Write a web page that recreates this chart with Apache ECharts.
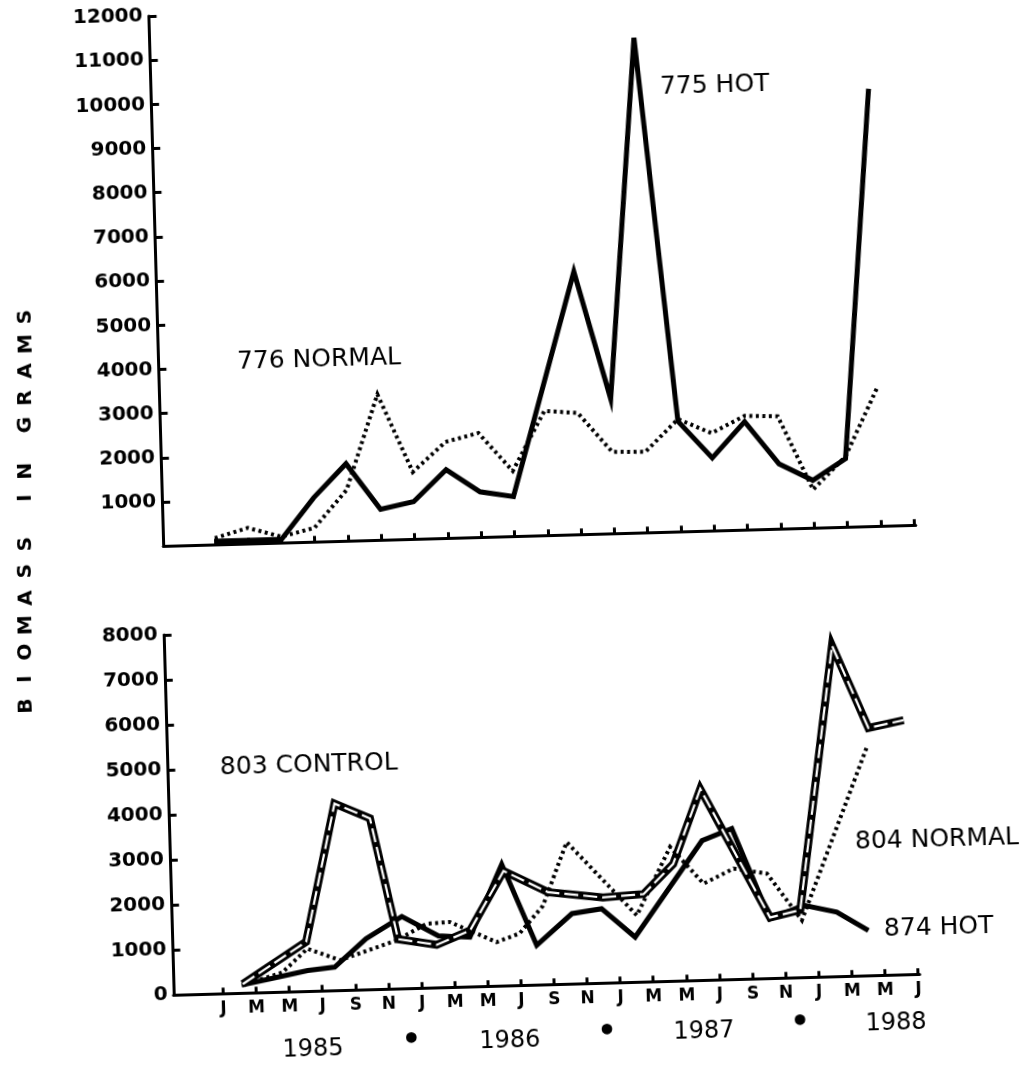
<!DOCTYPE html>
<html>
<head>
<meta charset="utf-8">
<title>Biomass in grams</title>
<script src="https://cdn.jsdelivr.net/npm/echarts@6/dist/echarts.min.js"></script>
<style>
  html, body { margin: 0; padding: 0; background: #fff; overflow: hidden; }
  /* the scanned figure sits a little tilted, so the whole chart box is turned */
  #chart {
    position: absolute; left: 0; top: -20px;
    width: 1036px; height: 1109px;
    transform: rotate(-1.6deg);
    transform-origin: 518px 554px;
  }
</style>
</head>
<body>
<div id="chart"></div>
<script>
// one tick every two months, Jan 1985 .. Jul 1988
const monthTicks = ['J', 'M', 'M', 'J', 'S', 'N',
                    'J', 'M', 'M', 'J', 'S', 'N',
                    'J', 'M', 'M', 'J', 'S', 'N',
                    'J', 'M', 'M', 'J'];
const years = ['1985', '1986', '1987', '1988'];

// upper panel, [tick index, grams]
const hot775 = [[0, 80], [1, 80], [2, 80], [3, 1000], [4, 1750], [5, 700], [6, 850],
                [7, 1550], [8, 1030], [9, 900], [11, 5950], [12, 3050], [13, 11200],
                [14, 2500], [15, 1650], [16, 2450], [17, 1470], [18, 1080], [19, 1550],
                [20, 9900]];
const normal776 = [[0, 150], [1, 360], [2, 140], [3, 320], [4, 1160], [5, 3300], [6, 1520],
                   [7, 2180], [8, 2360], [9, 1480], [10, 2820], [11, 2750], [12, 1850],
                   [13, 1830], [14, 2550], [15, 2210], [16, 2580], [17, 2550], [18, 870],
                   [19, 1600], [20, 3120]];

// lower panel, [tick index, grams]
const control803 = [[0.6, 200], [2.55, 1100], [3.52, 4150], [4.58, 3800], [5.33, 1100],
                    [6.49, 950], [7.51, 1250], [8.57, 2550], [9.9, 2050], [11.55, 1900],
                    [12.78, 1950], [13.7, 2600], [14.58, 4250], [16.58, 1350], [17.5, 1500],
                    [18.68, 7350], [19.71, 5500], [20.78, 5650]];
const normal804 = [[0.57, 170], [1.8, 430], [2.58, 945], [3.56, 670], [5.28, 1075],
                   [6.2, 1425], [6.9, 1450], [8.3, 975], [9.0, 1150], [9.73, 1750],
                   [10.5, 3150], [12.56, 1480], [13.62, 2980], [14.6, 2145], [15.52, 2460],
                   [16.52, 2330], [17.54, 1270], [19.65, 5080]];
const hot874 = [[0.57, 180], [1.43, 300], [2.57, 460], [3.39, 520], [4.36, 1130],
                [5.46, 1600], [6.55, 1150], [7.5, 1100], [8.52, 2700], [9.51, 880],
                [10.6, 1560], [11.5, 1650], [12.49, 1000], [14.59, 3100], [15.5, 3350],
                [16.58, 1320], [17.6, 1600], [18.6, 1430], [19.54, 1000]];

const tickIdx = monthTicks.map((m, i) => i);

// page position in the reference -> position inside the tilted chart box
const RAD = 1.6 * Math.PI / 180, C = Math.cos(RAD), S = Math.sin(RAD), OFF = 20;
function pg(x, y) {
  const dx = x - 518, dy = y - 534;
  return [518 + dx * C - dy * S, 534 + OFF + dx * S + dy * C];
}

function txt(s, x, y, size, weight, align, rot) {
  const p = pg(x, y);
  return {
    type: 'text', x: p[0], y: p[1], rotation: rot || 0,
    style: {
      text: s, fill: '#000', fontFamily: 'DejaVu Sans', fontSize: size,
      fontWeight: weight, align: align || 'left', verticalAlign: 'middle'
    }
  };
}

const graphics = [
  txt('775 HOT', 660, 87, 25, 'normal'),
  txt('776 NORMAL', 237, 362, 25, 'normal'),
  txt('803 CONTROL', 220, 768, 25, 'normal'),
  txt('804 NORMAL', 855, 842, 25, 'normal'),
  txt('874 HOT', 884, 929, 25, 'normal')
];

// year row under the month letters
const yearPos = [[313, 1050], [510, 1041], [704, 1032], [896, 1023]];
years.forEach((y, i) => {
  graphics.push(txt(y, yearPos[i][0], yearPos[i][1], 24, 'normal', 'center'));
  if (i < years.length - 1) {
    graphics.push(txt('•', (yearPos[i][0] + yearPos[i + 1][0]) / 2,
      (yearPos[i][1] + yearPos[i + 1][1]) / 2 - 4, 30, 'bold', 'center'));
  }
});

// vertical axis title, letter by letter from the bottom up
let ty = 706;
'BIOMASS IN GRAMS'.split('').forEach(ch => {
  if (ch === ' ') { ty -= 19; return; }
  graphics.push(txt(ch, 26, ty, 20, 'bold', 'center', Math.PI / 2));
  ty -= 27;
});

const black = '#000';
const axisFont = { fontFamily: 'DejaVu Sans', fontWeight: 'bold', fontSize: 20, color: black };

function yAx(grid, max, showZero) {
  return {
    gridIndex: grid, type: 'value', min: 0, max: max, interval: 1000,
    axisLine: { show: true, onZero: false, lineStyle: { color: black, width: 3 } },
    axisTick: { show: true, inside: true, length: 8, lineStyle: { color: black, width: 3 } },
    splitLine: { show: false },
    axisLabel: Object.assign({ margin: 6, formatter: v => (v === 0 && !showZero) ? '' : String(v) }, axisFont)
  };
}

function xAx(grid, min, max, labels) {
  return {
    gridIndex: grid, type: 'value', min: min, max: max,
    axisLine: { show: true, onZero: false, lineStyle: { color: black, width: 3 } },
    axisTick: { show: true, inside: true, length: 6, customValues: tickIdx,
                lineStyle: { color: black, width: 3 } },
    splitLine: { show: false },
    axisLabel: labels
      ? Object.assign({ customValues: tickIdx, margin: 7,
                        formatter: v => monthTicks[Math.round(v)] || '' }, axisFont, { fontSize: 17 })
      : { show: false }
  };
}

function line(name, data, ax, style, z) {
  return {
    name: name, type: 'line', data: data, xAxisIndex: ax, yAxisIndex: ax,
    showSymbol: false, symbol: 'none', z: z || 2,
    lineStyle: Object.assign({ color: black, join: 'miter', miterLimit: 6, cap: 'butt' }, style)
  };
}

const dotted = { width: 4, type: [3, 3.5] };

const chart = echarts.init(document.getElementById('chart'), null, { renderer: 'canvas' });
chart.setOption({
  backgroundColor: '#fff',
  animation: false,
  grid: [
    { left: 163.2, top: 25.9, width: 752.6, height: 530.4 },
    { left: 160.8, top: 645.1, width: 746.4, height: 360.1 }
  ],
  xAxis: [xAx(0, -1.55, 21.05, false), xAx(1, -1.5, 21.05, true)],
  yAxis: [yAx(0, 12000, false), yAx(1, 8000, true)],
  series: [
    line('776 NORMAL', normal776, 0, dotted, 2),
    line('775 HOT', hot775, 0, { width: 5 }, 3),
    line('804 NORMAL', normal804, 1, dotted, 2),
    line('874 HOT', hot874, 1, { width: 5 }, 3),
    line('803 CONTROL', control803, 1, { width: 8 }, 4),
    line('803 CONTROL core', control803, 1, { width: 2.2, color: '#fff', type: [14, 5] }, 5)
  ],
  graphic: graphics
});
</script>
</body>
</html>
